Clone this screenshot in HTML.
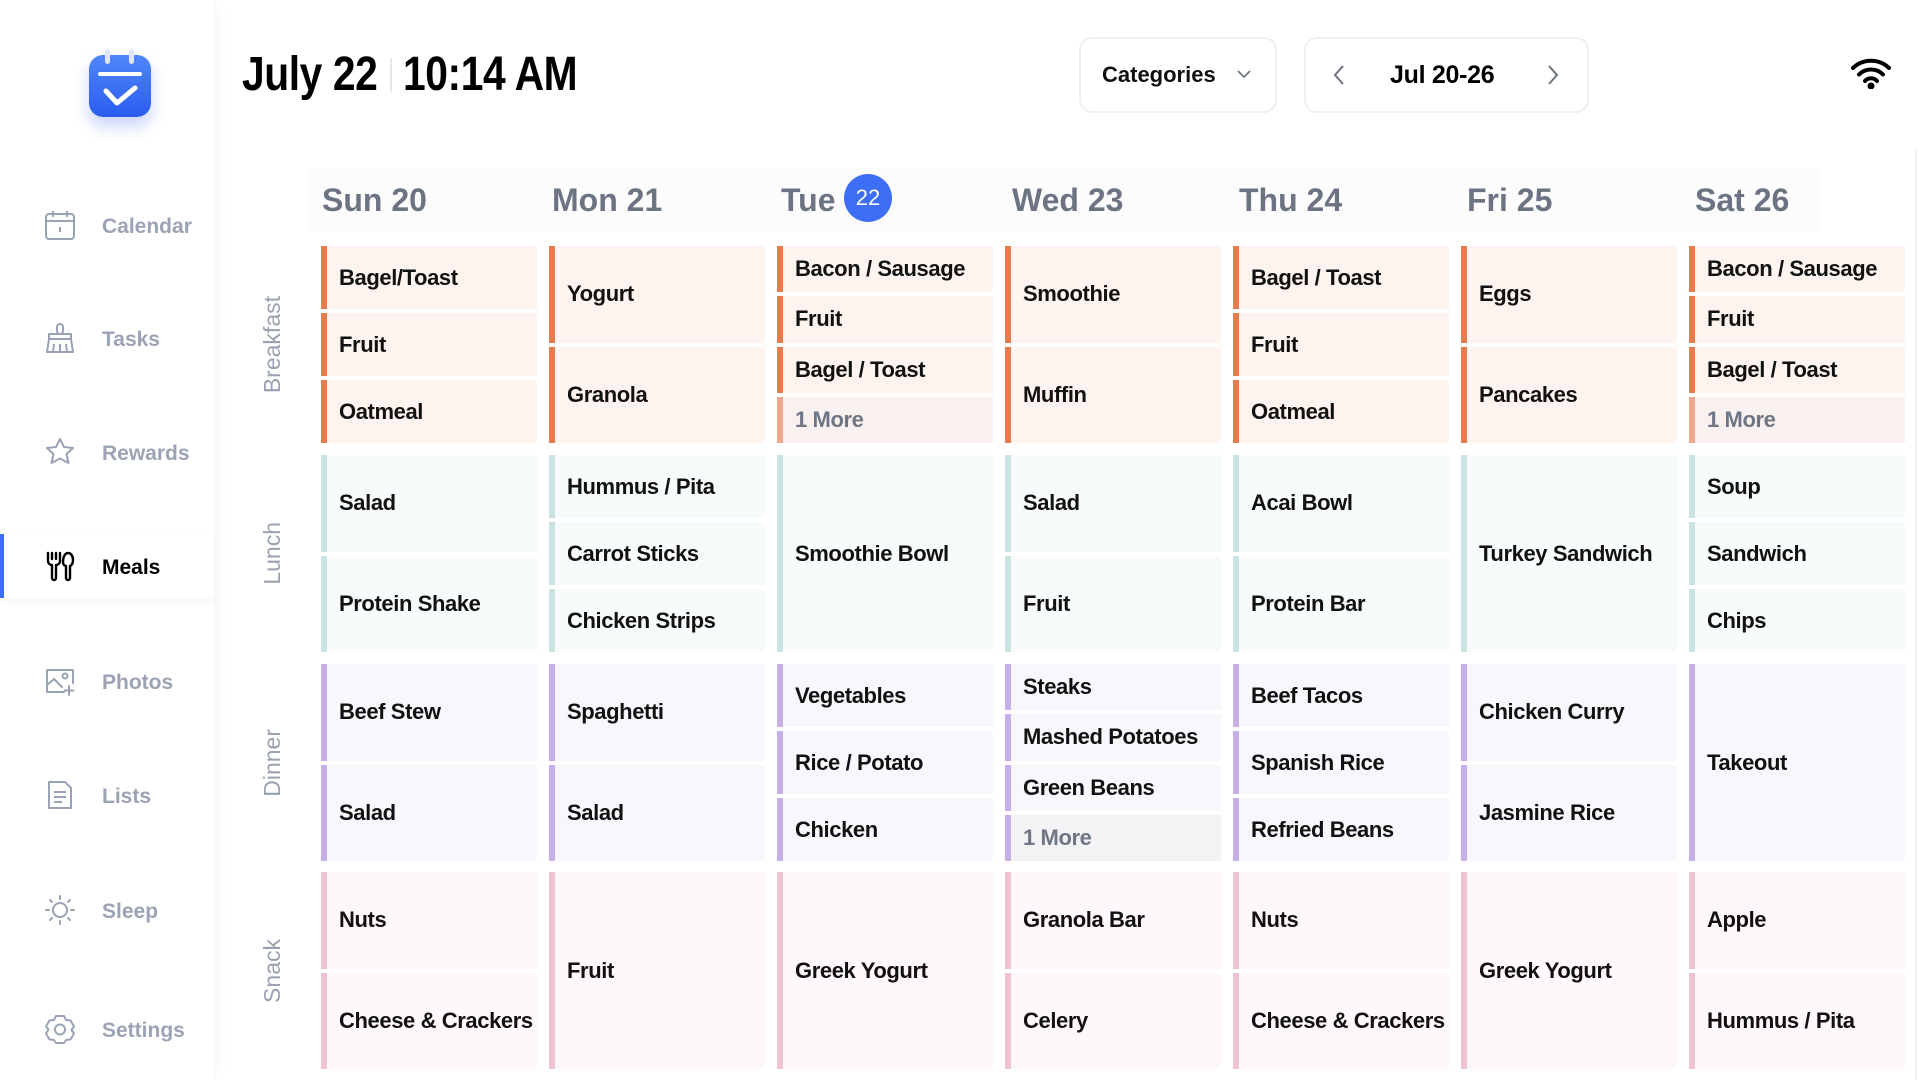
<!DOCTYPE html>
<html><head><meta charset="utf-8">
<style>
*{margin:0;padding:0;box-sizing:border-box}
html,body{width:1920px;height:1080px;overflow:hidden;background:#fff;font-family:"Liberation Sans",Arial,sans-serif}
.abs{position:absolute}
#side{position:absolute;left:0;top:0;width:214px;height:1080px;background:#fff;box-shadow:3px 0 14px rgba(0,0,0,0.035);z-index:2}
.nav{position:absolute;left:0;width:214px;height:64px}
.nav svg{position:absolute;left:44px;top:16px}
.nav span{position:absolute;left:102px;top:18px;line-height:32px;font-size:21px;font-weight:bold;color:#9ba3b4}
.nav.act{background:#fff;box-shadow:0 2px 10px rgba(0,0,0,0.05)}
.nav.act span{color:#000}
.nav.act:before{content:"";position:absolute;left:0;top:0;width:4px;height:64px;background:#3d6ef5}
.title{position:absolute;top:51px;line-height:48px;font-size:48px;font-weight:bold;color:#000;transform:scaleX(0.85);transform-origin:left center;white-space:nowrap;letter-spacing:-0.5px}
.btn{position:absolute;top:37px;height:76px;border:2px solid #eef0f4;border-radius:13px;background:#fff}
.dh{position:absolute;top:168px;line-height:64px;font-size:32px;font-weight:bold;color:#6c7383;white-space:nowrap;padding-left:3px}
.rl{position:absolute;left:252px;width:40px;height:197px;display:flex;align-items:center;justify-content:center}
.rl span{writing-mode:vertical-rl;transform:rotate(180deg);font-size:23px;color:#9aa1b0;white-space:nowrap}
.c{position:absolute;width:216px;height:197px;display:flex;flex-direction:column;gap:4px}
.i{flex:1;border-left:6px solid;display:flex;align-items:center;padding-left:12px;font-size:22px;font-weight:bold;color:#111;white-space:nowrap;letter-spacing:-0.4px;overflow:hidden}
.b .i{border-left-color:#e67b4e;background:#fdf4f0}
.l .i{border-left-color:#c8e3e1;background:#f7fbfb}
.d .i{border-left-color:#c7afe7;background:#f8f7fc}
.s .i{border-left-color:#f0c3d0;background:#fef8f9}
.b .i.m{border-left-color:#eea88d;background:#f8f1f0;color:#6e7686}
.d .i.m{background:#f3f3f6;color:#6e7686}
</style></head><body>

<div id="side">
  <div class="abs" style="left:89px;top:55px;width:62px;height:62px;border-radius:14px;background:linear-gradient(180deg,#5087f8,#2a5cf0);box-shadow:0 9px 16px rgba(60,100,240,0.28)"></div>
  <div class="abs" style="left:105px;top:49px;width:5px;height:15px;border-radius:3px;background:#dfe6fd"></div>
  <div class="abs" style="left:129px;top:49px;width:5px;height:15px;border-radius:3px;background:#dfe6fd"></div>
  <div class="abs" style="left:98px;top:72px;width:44px;height:4px;border-radius:2px;background:#fff"></div>
  <svg class="abs" style="left:89px;top:55px" width="62" height="62" viewBox="0 0 62 62"><polyline points="17,36 28,48 46,33" fill="none" stroke="#fff" stroke-width="5" stroke-linecap="round" stroke-linejoin="round"/></svg>

  <div class="nav" style="top:193px"><svg width="32" height="32" viewBox="0 0 32 32" fill="none" stroke="#9aa3b5" stroke-width="2"><rect x="2" y="5" width="28" height="25" rx="3"/><line x1="2" y1="12" x2="30" y2="12"/><line x1="9" y1="2" x2="9" y2="8"/><line x1="23" y1="2" x2="23" y2="8"/><line x1="16" y1="18" x2="16" y2="23"/></svg><span>Calendar</span></div>
  <div class="nav" style="top:306px"><svg width="32" height="32" viewBox="0 0 32 32" fill="none" stroke="#9aa3b5" stroke-width="2" stroke-linejoin="round"><rect x="13" y="2" width="6" height="10" rx="3"/><path d="M5 12h22v5H5z"/><path d="M5 17l-2 13h26l-2-13"/><line x1="10" y1="22" x2="9" y2="30"/><line x1="16" y1="22" x2="16" y2="30"/><line x1="22" y1="22" x2="23" y2="30"/></svg><span>Tasks</span></div>
  <div class="nav" style="top:420px"><svg width="32" height="32" viewBox="0 0 32 32" fill="none" stroke="#9aa3b5" stroke-width="2" stroke-linejoin="round"><path d="M16 3l4 8 9 1-6.5 6 2 9-8.5-4.5L7.5 27l2-9L3 12l9-1z"/></svg><span>Rewards</span></div>
  <div class="nav act" style="top:534px"><svg width="32" height="32" viewBox="0 0 32 32" fill="none" stroke="#000" stroke-width="2.4" stroke-linejoin="round" stroke-linecap="round"><path d="M4 3v8a4 4 0 0 0 4 4v0v13a2 2 0 0 0 4 0V15a4 4 0 0 0 4-4V3"/><line x1="8" y1="3" x2="8" y2="9"/><line x1="12" y1="3" x2="12" y2="9"/><path d="M24 3c-3 0-5 4-5 9 0 3 2 4 3 4v12a2 2 0 0 0 4 0V16c2-1 3-3 3-6 0-4-2-7-5-7z"/></svg><span>Meals</span></div>
  <div class="nav" style="top:649px"><svg width="32" height="32" viewBox="0 0 32 32" fill="none" stroke="#9aa3b5" stroke-width="2" stroke-linejoin="round" stroke-linecap="round"><path d="M20 27H3V5h26v13"/><path d="M3 20l7-6 8 8"/><circle cx="21" cy="11" r="2.5"/><line x1="25" y1="21" x2="25" y2="30"/><line x1="20.5" y1="25.5" x2="29.5" y2="25.5"/></svg><span>Photos</span></div>
  <div class="nav" style="top:763px"><svg width="32" height="32" viewBox="0 0 32 32" fill="none" stroke="#9aa3b5" stroke-width="2" stroke-linejoin="round"><path d="M5 3h16l6 6v20H5z"/><line x1="10" y1="13" x2="22" y2="13"/><line x1="10" y1="18" x2="22" y2="18"/><line x1="10" y1="23" x2="18" y2="23"/></svg><span>Lists</span></div>
  <div class="nav" style="top:878px"><svg width="32" height="32" viewBox="0 0 32 32" fill="none" stroke="#9aa3b5" stroke-width="2" stroke-linecap="round"><circle cx="16" cy="16" r="7"/><line x1="16" y1="2" x2="16" y2="5"/><line x1="16" y1="27" x2="16" y2="30"/><line x1="2" y1="16" x2="5" y2="16"/><line x1="27" y1="16" x2="30" y2="16"/><line x1="6" y1="6" x2="8" y2="8"/><line x1="24" y1="24" x2="26" y2="26"/><line x1="26" y1="6" x2="24" y2="8"/><line x1="8" y1="24" x2="6" y2="26"/></svg><span>Sleep</span></div>
  <div class="nav" style="top:997px"><svg width="32" height="32" viewBox="0 0 32 32" fill="none" stroke="#9aa3b5" stroke-width="2" stroke-linejoin="round"><path d="M12 3h8l2 4 4.5 0.5 3.5 6-2.5 3.5 2.5 3.5-3.5 6L22 27l-2 3h-8l-2-3-4.5-0.5-3.5-6L4.5 16.5 2 13.5l3.5-6L10 7z"/><circle cx="16" cy="16.5" r="5"/></svg><span>Settings</span></div>
</div>

<div class="title" style="left:242px">July 22</div>
<div class="abs" style="left:390px;top:58px;width:2px;height:34px;background:#e6e8ec"></div>
<div class="title" style="left:403px">10:14 AM</div>

<div class="btn" style="left:1079px;width:198px"></div>
<div class="abs" style="left:1102px;top:59px;line-height:32px;font-size:22px;font-weight:bold;color:#111">Categories</div>
<svg class="abs" style="left:1236px;top:68px" width="16" height="12" viewBox="0 0 16 12"><polyline points="2,3 8,9 14,3" fill="none" stroke="#6b7280" stroke-width="1.6"/></svg>
<div class="btn" style="left:1304px;width:285px"></div>
<svg class="abs" style="left:1332px;top:63px" width="14" height="24" viewBox="0 0 14 24"><polyline points="11,3 3,12 11,21" fill="none" stroke="#6b7280" stroke-width="2"/></svg>
<div class="abs" style="left:1390px;top:59px;line-height:32px;font-size:25px;font-weight:bold;color:#000;letter-spacing:-0.3px">Jul 20-26</div>
<svg class="abs" style="left:1546px;top:63px" width="14" height="24" viewBox="0 0 14 24"><polyline points="3,3 11,12 3,21" fill="none" stroke="#6b7280" stroke-width="2"/></svg>

<svg class="abs" style="left:1850px;top:57px" width="42" height="32" viewBox="0 0 42 32" fill="none" stroke="#000" stroke-width="4" stroke-linecap="round"><path d="M3 11a26 26 0 0 1 36 0"/><path d="M9 17.5a17 17 0 0 1 24 0"/><path d="M15 24a8 8 0 0 1 12 0"/><circle cx="21" cy="29" r="1.5" fill="#000"/></svg>

<div class="abs" style="left:1915px;top:150px;width:2px;height:930px;background:#f2f2f2"></div>

<div class="abs" style="left:308px;top:168px;width:1511px;height:64px;background:#fcfcfc"></div>
<div class="dh" style="left:319px">Sun 20</div>
<div class="dh" style="left:549px">Mon 21</div>
<div class="dh" style="left:778px">Tue</div>
<div class="abs" style="left:844px;top:174px;width:48px;height:48px;border-radius:50%;background:#3d6ef5;color:#fff;font-size:22px;line-height:48px;text-align:center">22</div>
<div class="dh" style="left:1009px">Wed 23</div>
<div class="dh" style="left:1236px">Thu 24</div>
<div class="dh" style="left:1464px">Fri 25</div>
<div class="dh" style="left:1692px">Sat 26</div>

<div class="rl" style="top:246px"><span>Breakfast</span></div>
<div class="rl" style="top:455px"><span>Lunch</span></div>
<div class="rl" style="top:664px"><span>Dinner</span></div>
<div class="rl" style="top:872px"><span>Snack</span></div>

<div class="c b" style="left:321px;top:246px"><div class="i">Bagel/Toast</div><div class="i">Fruit</div><div class="i">Oatmeal</div></div>
<div class="c b" style="left:549px;top:246px"><div class="i">Yogurt</div><div class="i">Granola</div></div>
<div class="c b" style="left:777px;top:246px"><div class="i">Bacon / Sausage</div><div class="i">Fruit</div><div class="i">Bagel / Toast</div><div class="i m">1 More</div></div>
<div class="c b" style="left:1005px;top:246px"><div class="i">Smoothie</div><div class="i">Muffin</div></div>
<div class="c b" style="left:1233px;top:246px"><div class="i">Bagel / Toast</div><div class="i">Fruit</div><div class="i">Oatmeal</div></div>
<div class="c b" style="left:1461px;top:246px"><div class="i">Eggs</div><div class="i">Pancakes</div></div>
<div class="c b" style="left:1689px;top:246px"><div class="i">Bacon / Sausage</div><div class="i">Fruit</div><div class="i">Bagel / Toast</div><div class="i m">1 More</div></div>

<div class="c l" style="left:321px;top:455px"><div class="i">Salad</div><div class="i">Protein Shake</div></div>
<div class="c l" style="left:549px;top:455px"><div class="i">Hummus / Pita</div><div class="i">Carrot Sticks</div><div class="i">Chicken Strips</div></div>
<div class="c l" style="left:777px;top:455px"><div class="i">Smoothie Bowl</div></div>
<div class="c l" style="left:1005px;top:455px"><div class="i">Salad</div><div class="i">Fruit</div></div>
<div class="c l" style="left:1233px;top:455px"><div class="i">Acai Bowl</div><div class="i">Protein Bar</div></div>
<div class="c l" style="left:1461px;top:455px"><div class="i">Turkey Sandwich</div></div>
<div class="c l" style="left:1689px;top:455px"><div class="i">Soup</div><div class="i">Sandwich</div><div class="i">Chips</div></div>

<div class="c d" style="left:321px;top:664px"><div class="i">Beef Stew</div><div class="i">Salad</div></div>
<div class="c d" style="left:549px;top:664px"><div class="i">Spaghetti</div><div class="i">Salad</div></div>
<div class="c d" style="left:777px;top:664px"><div class="i">Vegetables</div><div class="i">Rice / Potato</div><div class="i">Chicken</div></div>
<div class="c d" style="left:1005px;top:664px"><div class="i">Steaks</div><div class="i">Mashed Potatoes</div><div class="i">Green Beans</div><div class="i m">1 More</div></div>
<div class="c d" style="left:1233px;top:664px"><div class="i">Beef Tacos</div><div class="i">Spanish Rice</div><div class="i">Refried Beans</div></div>
<div class="c d" style="left:1461px;top:664px"><div class="i">Chicken Curry</div><div class="i">Jasmine Rice</div></div>
<div class="c d" style="left:1689px;top:664px"><div class="i">Takeout</div></div>

<div class="c s" style="left:321px;top:872px"><div class="i">Nuts</div><div class="i">Cheese &amp; Crackers</div></div>
<div class="c s" style="left:549px;top:872px"><div class="i">Fruit</div></div>
<div class="c s" style="left:777px;top:872px"><div class="i">Greek Yogurt</div></div>
<div class="c s" style="left:1005px;top:872px"><div class="i">Granola Bar</div><div class="i">Celery</div></div>
<div class="c s" style="left:1233px;top:872px"><div class="i">Nuts</div><div class="i">Cheese &amp; Crackers</div></div>
<div class="c s" style="left:1461px;top:872px"><div class="i">Greek Yogurt</div></div>
<div class="c s" style="left:1689px;top:872px"><div class="i">Apple</div><div class="i">Hummus / Pita</div></div>

</body></html>
